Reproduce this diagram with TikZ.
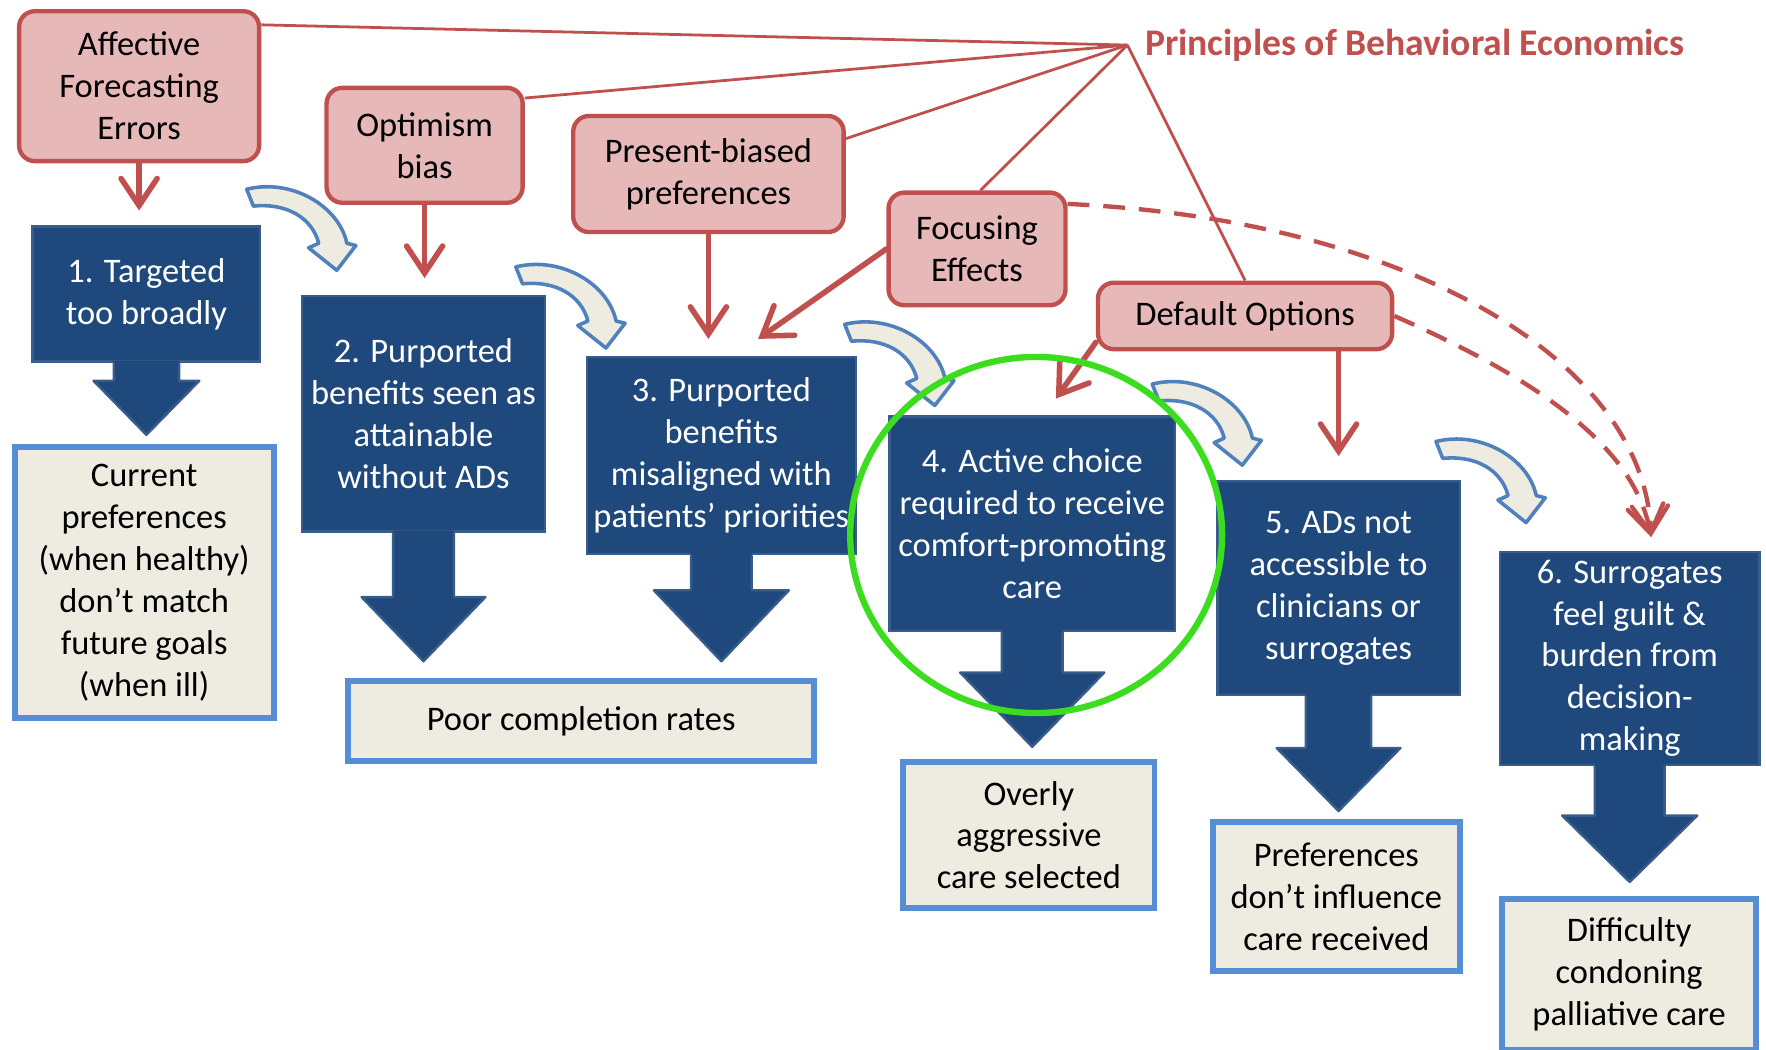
\documentclass[tikz,border=0pt]{standalone}
\usepackage{fontspec}
\setmainfont{Carlito}
\usetikzlibrary{positioning, arrows.meta, calc}

\definecolor{pinkfill}{HTML}{E6B9B8}
\definecolor{redline}{HTML}{C0504D}
\definecolor{navy}{HTML}{1F497D}
\definecolor{navyedge}{HTML}{385D8A}
\definecolor{creamfill}{HTML}{EEECE1}
\definecolor{skyedge}{HTML}{558ED5}
\definecolor{bendedge}{HTML}{4F81BD}
\definecolor{ringgreen}{HTML}{3CDC1E}

% block arrow under a stage box: node, stem half width, head half width, head start, tip
\newcommand{\stagearrow}[5]{%
  \fill[navy] ($(#1.south)+(-#2,-2)$) -- ($(#1.south)+(-#2,#4)$) -- ($(#1.south)+(-#3,#4)$)
    -- ($(#1.south)+(0,#5)$) -- ($(#1.south)+(#3,#4)$) -- ($(#1.south)+(#2,#4)$)
    -- ($(#1.south)+(#2,-2)$) -- cycle;
  \draw[navyedge, line width=0.6pt, line join=round] ($(#1.south)+(-#2,0)$) -- ($(#1.south)+(-#2,#4)$)
    -- ($(#1.south)+(-#3,#4)$) -- ($(#1.south)+(0,#5)$) -- ($(#1.south)+(#3,#4)$)
    -- ($(#1.south)+(#2,#4)$) -- ($(#1.south)+(#2,0)$);}

\begin{document}
\begin{tikzpicture}[x=0.01cm, y=-0.01cm,
    bias/.style={draw=redline, fill=pinkfill, line width=1.1pt, rounded corners=0.14cm, align=center, inner sep=1pt, font=\fontsize{8.7}{10.6}\selectfont},
    stage/.style={draw=navyedge, fill=navy, line width=0.6pt, text=white, align=center, inner sep=1pt, font=\fontsize{8.7}{10.6}\selectfont},
    result/.style={draw=skyedge, fill=creamfill, line width=1.5pt, align=center, inner sep=1pt, font=\fontsize{8.7}{10.6}\selectfont},
    link/.style={draw=redline, line width=0.7pt},
    push/.style={draw=redline, line width=1.4pt, line cap=round, -{Straight Barb[length=2.4mm, width=3.2mm, line cap=round]}},
    maybe/.style={push, line width=1.1pt, line cap=butt, dash pattern=on 5.5pt off 3.5pt},
    ring/.style={draw=ringgreen, line width=1.6pt},
    bendbody/.style={draw=bendedge, fill=creamfill, line width=0.9pt, line join=round},
    pics/bend arrow/.style={code={
        \filldraw[bendbody] (0,0) .. controls (40,-10) and (82,15) .. (89,48) -- (97,50) -- (80,72)
            -- (55,52) -- (64,48) .. controls (58,25) and (35,12) .. (6,15) -- cycle;
    }}]

    \useasboundingbox (0,0) rectangle (1568,932);

    %BEHAVIORAL ECONOMICS
    \coordinate (pbe) at (1001,40);
    \node[anchor=west, text=redline, font=\bfseries\fontsize{9.5}{11}\selectfont, inner sep=0pt] (pbetext) at (1016,40) {Principles of Behavioral Economics};

    \node[bias, minimum width=2.13cm, minimum height=1.33cm] (aff) at (123.5,76.5) {Affective\\Forecasting\\Errors};
    \node[bias, minimum width=1.74cm, minimum height=1.02cm] (opt) at (377,129) {Optimism\\bias};
    \node[bias, minimum width=2.40cm, minimum height=1.03cm] (pre) at (629,154.5) {Present-biased\\preferences};
    \node[bias, minimum width=1.57cm, minimum height=1.00cm] (foc) at (867.5,221) {Focusing\\Effects};
    \node[bias, minimum width=2.61cm, minimum height=0.59cm] (def) at (1105.5,280.5) {Default Options};

    \draw[link] (pbe) -- ([yshift=-0.14cm]aff.north east);
    \draw[link] (pbe) -- ([yshift=-0.11cm]opt.north east);
    \draw[link] (pbe) -- ([yshift=-0.22cm]pre.north east);
    \draw[link] (pbe) -- ([xshift=0.03cm]foc.north);
    \draw[link] (pbe) -- (def.north);

    %STAGES
    \node[stage, minimum width=2.02cm, minimum height=1.20cm] (b1) at (130,261) {1. Targeted\\too broadly};
    \node[stage, minimum width=2.16cm, minimum height=2.09cm] (b2) at (376,367.5) {2. Purported\\benefits seen as\\attainable\\without ADs};
    \node[stage, minimum width=2.39cm, minimum height=1.75cm] (b3) at (640.5,404.5) {3. Purported\\benefits\\misaligned with\\patients’ priorities};
    \node[stage, minimum width=2.53cm, minimum height=1.90cm] (b4) at (916.5,465) {4. Active choice\\required to receive\\comfort-promoting\\care};
    \node[stage, minimum width=2.15cm, minimum height=1.90cm] (b5) at (1188.5,522) {5. ADs not\\accessible to\\clinicians or\\surrogates};
    \node[stage, minimum width=2.30cm, minimum height=1.89cm] (b6) at (1447,584.5) {6. Surrogates\\feel guilt \&\\burden from\\decision-\\making};

    \stagearrow{b1}{29}{47}{16}{64}
    \stagearrow{b2}{27}{55}{57}{114}
    \stagearrow{b3}{27}{60}{31}{94}
    \stagearrow{b4}{27}{64}{36}{102}
    \stagearrow{b5}{29}{55}{46}{102}
    \stagearrow{b6}{31}{60}{44}{103}

    %OUTCOMES
    \node[result, minimum width=2.30cm, minimum height=2.40cm] (r1) at (128,517) {Current\\preferences\\(when healthy)\\don’t match\\future goals\\(when ill)};
    \node[result, minimum width=4.14cm, minimum height=0.71cm] (r2) at (516,640.5) {Poor completion rates};
    \node[result, minimum width=2.23cm, minimum height=1.29cm] (r3) at (913.5,741.5) {Overly\\aggressive\\care selected};
    \node[result, minimum width=2.19cm, minimum height=1.32cm] (r4) at (1186.5,796) {Preferences\\don’t influence\\care received};
    \node[result, minimum width=2.25cm, minimum height=1.34cm] (r5) at (1446.5,865) {Difficulty\\condoning\\palliative care};

    %BIAS ARROWS
    \draw[push, shorten >=0.13cm] (aff.south) -- (aff.south |- b1.north);
    \draw[push, shorten >=0.15cm] (opt.south) -- (opt.south |- b2.north);
    \draw[push, shorten >=0.15cm] (pre.south) -- (pre.south |- b3.north);
    \draw[push] (foc.west) -- ($(b3.north east)+(-88,-15)$);
    \draw[push] ($(def.south west)+(0,-8)$) -- ($(b4.north)+(21,-15)$);
    \draw[push, shorten >=0.21cm] (b5.north |- def.south) -- (b5.north);
    \draw[maybe] ([yshift=-0.12cm]foc.north east) .. controls (1250,195) and (1460,320) .. ($(b6.north)+(19,-12)$);
    \draw[maybe] (def.east) .. controls (1350,330) and (1450,390) .. ($(b6.north)+(19,-12)$);

    %STEP ARROWS
    \pic at (219,168) {bend arrow};
    \pic at (458,237) {bend arrow};
    \pic at (750,288) {bend arrow};
    \pic at (1023,341) {bend arrow};
    \pic at (1275,392) {bend arrow};

    \draw[ring] (920,475) ellipse [x radius=1.65cm, y radius=1.58cm];

\end{tikzpicture}
\end{document}
